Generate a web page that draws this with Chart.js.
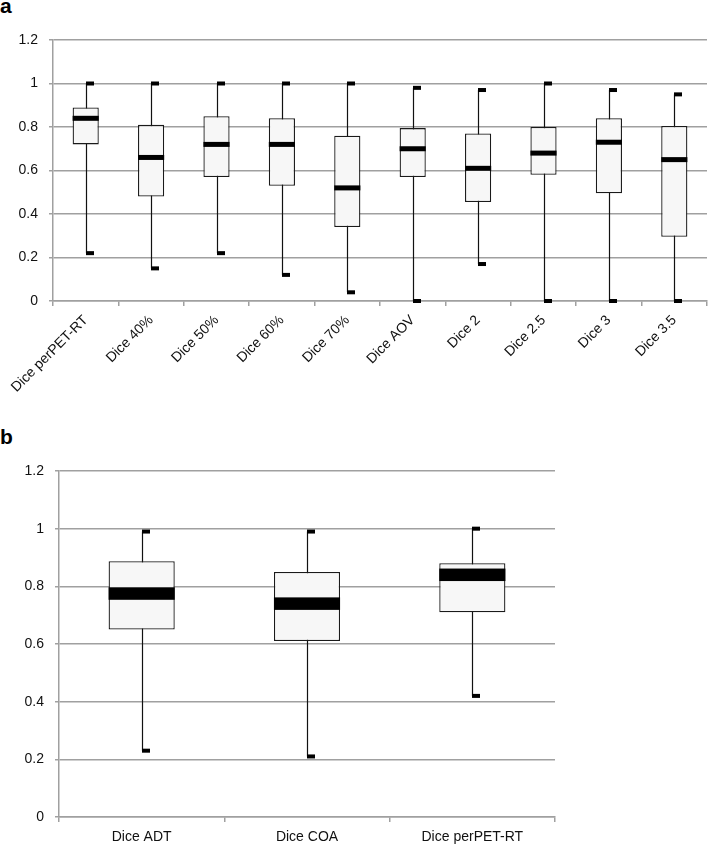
<!DOCTYPE html>
<html>
<head>
<meta charset="utf-8">
<script src="https://cdn.jsdelivr.net/npm/chart.js@4.4.0/dist/chart.umd.min.js"></script>
<style>
  body { margin: 0; background: #fff; width: 708px; height: 845px; position: relative; overflow: hidden; }
  .panel-label { position: absolute; left: 0; font: bold 21px "Liberation Sans", Arial, sans-serif; line-height: 1; color: #000; }
  #wrapA { position: absolute; left: 0; top: 0; width: 708px; height: 400px; }
  #wrapB { position: absolute; left: 0; top: 420px; width: 708px; height: 425px; }
</style>
</head>
<body>
<div class="panel-label" style="top:-5px;">a</div>
<div class="panel-label" style="top:426px;">b</div>
<div id="wrapA"><canvas id="chartA"></canvas></div>
<div id="wrapB"><canvas id="chartB"></canvas></div>
<script>
// panel a
const labelsA = ['Dice perPET-RT', 'Dice 40%', 'Dice 50%', 'Dice 60%', 'Dice 70%', 'Dice AOV', 'Dice 2', 'Dice 2.5', 'Dice 3', 'Dice 3.5'];
const minA = [0.22, 0.15, 0.22, 0.12, 0.04, 0, 0.17, 0, 0, 0];
const q1A = [0.72, 0.48, 0.57, 0.53, 0.34, 0.57, 0.455, 0.58, 0.495, 0.295];
const medA = [0.84, 0.66, 0.72, 0.72, 0.52, 0.70, 0.61, 0.68, 0.73, 0.65];
const q3A = [0.89, 0.81, 0.85, 0.84, 0.76, 0.795, 0.77, 0.80, 0.84, 0.805];
const maxA = [1, 1, 1, 1, 1, 0.98, 0.97, 1, 0.97, 0.95];

// panel b
const labelsB = ['Dice ADT', 'Dice COA', 'Dice perPET-RT'];
const minB = [0.23, 0.21, 0.42];
const q1B = [0.65, 0.61, 0.71];
const medB = [0.775, 0.74, 0.84];
const q3B = [0.887, 0.85, 0.88];
const maxB = [0.99, 0.99, 1];

const yTicks = [0, 0.2, 0.4, 0.6, 0.8, 1, 1.2];

const FONT = '"Liberation Sans", Arial, sans-serif';
const GRID = '#a0a0a0';

// whiskers under the boxes, median band + caps on top
function boxPlotPlugin(mins, meds, maxs, medHeight, capW, capH) {
    return {
        id: 'boxExtras',
        beforeDatasetsDraw(chart) {
            const ctx = chart.ctx;
            const xs = chart.scales.x, ys = chart.scales.y;
            ctx.save();
            ctx.strokeStyle = '#111';
            ctx.lineWidth = 1.2;
            mins.forEach((v, i) => {
                const px = Math.round(xs.getPixelForValue(i)) + 0.5;
                ctx.beginPath();
                ctx.moveTo(px, ys.getPixelForValue(v));
                ctx.lineTo(px, ys.getPixelForValue(maxs[i]));
                ctx.stroke();
            });
            ctx.restore();
        },
        afterDatasetsDraw(chart) {
            const ctx = chart.ctx;
            const xs = chart.scales.x, ys = chart.scales.y;
            const bars = chart.getDatasetMeta(0).data;
            ctx.save();
            ctx.fillStyle = '#000';
            meds.forEach((m, i) => {
                const bar = bars[i];
                const my = ys.getPixelForValue(m);
                ctx.fillRect(bar.x - bar.width / 2, my - medHeight / 2, bar.width, medHeight);
                const px = Math.round(xs.getPixelForValue(i));
                [mins[i], maxs[i]].forEach(v => {
                    const cy = ys.getPixelForValue(v);
                    ctx.fillRect(px, cy - capH / 2, capW, capH);
                });
            });
            ctx.restore();
        }
    };
}

function makeChart(id, labels, mins, q1s, meds, q3s, maxs, opt) {
    const ctx = document.getElementById(id).getContext('2d');
    return new Chart(ctx, {
        type: 'bar',
        data: {
            labels: labels,
            datasets: [{
                data: q1s.map((q, i) => [q, q3s[i]]),
                backgroundColor: '#f7f7f7',
                borderColor: '#1a1a1a',
                borderWidth: 1.3,
                borderSkipped: false,
                categoryPercentage: 1,
                barPercentage: 0.4
            }]
        },
        options: {
            responsive: true,
            maintainAspectRatio: false,
            animation: false,
            layout: { padding: opt.padding },
            plugins: {
                legend: { display: false },
                tooltip: { enabled: false }
            },
            scales: {
                x: {
                    grid: {
                        offset: true,
                        drawOnChartArea: false,
                        drawTicks: true,
                        tickLength: 5,
                        color: GRID,
                        lineWidth: 1.5
                    },
                    border: { color: GRID, width: 1.5 },
                    ticks: {
                        color: '#111',
                        font: { family: FONT, size: opt.xFont },
                        minRotation: opt.rotation,
                        maxRotation: opt.rotation,
                        padding: opt.xPad,
                        autoSkip: false
                    },
                    afterFit: s => { s.height = opt.xHeight; }
                },
                y: {
                    min: 0,
                    max: 1.2,
                    afterBuildTicks: s => { s.ticks = yTicks.map(v => ({ value: v })); },
                    grid: { color: GRID, lineWidth: 1.5, tickLength: 4 },
                    border: { color: GRID, width: 1.5 },
                    ticks: {
                        color: '#111',
                        font: { family: FONT, size: 14 },
                        padding: 11,
                        callback: v => String(+v.toFixed(1))
                    },
                    afterFit: s => { s.width = opt.yWidth; }
                }
            }
        },
        plugins: [boxPlotPlugin(mins, meds, maxs, opt.medHeight, opt.capW, opt.capH)]
    });
}

makeChart('chartA', labelsA, minA, q1A, medA, q3A, maxA, {
    padding: { top: 40, right: 1, left: 0, bottom: 0 },
    xFont: 14, rotation: 45, xPad: 6, xHeight: 99, yWidth: 53,
    medHeight: 5, capW: 8, capH: 4
});

makeChart('chartB', labelsB, minB, q1B, medB, q3B, maxB, {
    padding: { top: 51, right: 153, left: 0, bottom: 0 },
    xFont: 14, rotation: 0, xPad: 7, xHeight: 28, yWidth: 59,
    medHeight: 12.5, capW: 8, capH: 4
});
</script>
</body>
</html>
